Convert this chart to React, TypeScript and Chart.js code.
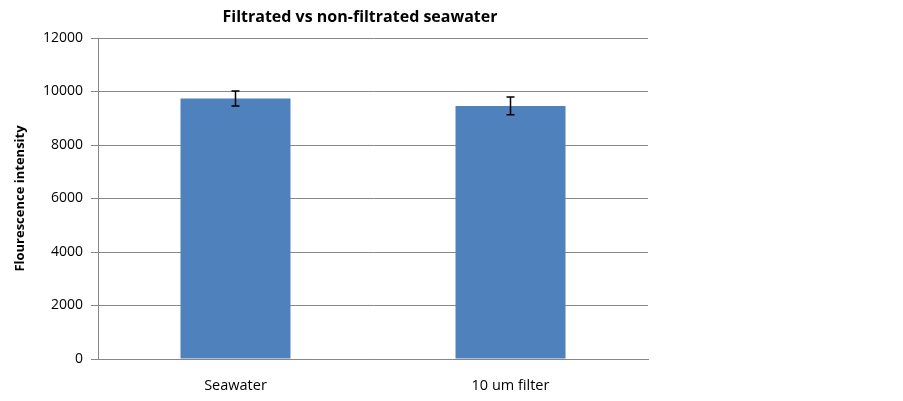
import React, { useEffect, useRef } from "react";
import { Chart, registerables } from "chart.js";

Chart.register(...registerables);

const categories = ["Seawater", "10 um filter"];
const values = [9740, 9460];
const errors = [280, 330];
const yMin = 0;
const yMax = 12000;
const yStep = 2000;
const titleText = "Filtrated vs non-filtrated seawater";
const yTitle = "Flourescence intensity";

const FONT = "'Open Sans', 'Liberation Sans', sans-serif";

const errorBarPlugin = {
  id: "errorBars",
  afterDatasetsDraw(chart: any) {
    const meta = chart.getDatasetMeta(0);
    const y = chart.scales.y;
    const ctx = chart.ctx;
    ctx.save();
    ctx.strokeStyle = "#000000";
    ctx.lineWidth = 1.5;
    meta.data.forEach((bar: any, i: number) => {
      const x = bar.x;
      const top = y.getPixelForValue(values[i] + errors[i]);
      const bot = y.getPixelForValue(values[i] - errors[i]);
      ctx.beginPath();
      ctx.moveTo(x, top);
      ctx.lineTo(x, bot);
      ctx.moveTo(x - 4, top);
      ctx.lineTo(x + 4, top);
      ctx.moveTo(x - 4, bot);
      ctx.lineTo(x + 4, bot);
      ctx.stroke();
    });
    ctx.restore();
  },
};

const titlePlugin = {
  id: "customTitle",
  afterDraw(chart: any) {
    const ctx = chart.ctx;
    ctx.save();
    ctx.font = `bold 16px ${FONT}`;
    ctx.fillStyle = "#000000";
    ctx.textAlign = "center";
    ctx.textBaseline = "middle";
    ctx.fillText(titleText, 360, 17);
    ctx.restore();
  },
};

export default function App() {
  const ref = useRef<HTMLCanvasElement | null>(null);
  useEffect(() => {
    document.body.style.margin = "0";
    const chart = new Chart(ref.current as HTMLCanvasElement, {
      type: "bar",
      data: {
        labels: categories,
        datasets: [
          {
            data: values,
            backgroundColor: "#4F81BD",
            categoryPercentage: 1,
            barPercentage: 0.4,
          },
        ],
      },
      options: {
        animation: false,
        responsive: false,
        maintainAspectRatio: false,
        layout: { padding: { left: 0, right: 255, top: 38, bottom: 0 } },
        plugins: {
          legend: { display: false },
          title: { display: false },
          tooltip: { enabled: false },
        },
        scales: {
          x: {
            grid: { display: false, drawTicks: false },
            border: { color: "#878787", width: 1 },
            ticks: { color: "#000", font: { family: FONT, size: 14.5 }, padding: 18 },
            afterFit(scale: any) {
              scale.height = 42;
            },
          },
          y: {
            min: yMin,
            max: yMax,
            ticks: {
              stepSize: yStep,
              color: "#000",
              font: { family: FONT, size: 14 },
              padding: 8,
              callback: (v: any) => String(v),
            },
            grid: { color: "#878787", lineWidth: 1, tickLength: 7 },
            border: { color: "#878787", width: 1 },
            title: {
              display: true,
              text: yTitle,
              color: "#000",
              font: { family: FONT, size: 13, weight: "bold" },
              padding: { top: 12, bottom: 0 },
            },
            afterFit(scale: any) {
              scale.width = 98;
            },
          },
        },
      },
      plugins: [errorBarPlugin, titlePlugin],
    });
    return () => chart.destroy();
  }, []);
  return (
    <div style={{ width: 903, height: 401, background: "#fff" }}>
      <canvas ref={ref} width={903} height={401} style={{ display: "block" }} />
    </div>
  );
}
